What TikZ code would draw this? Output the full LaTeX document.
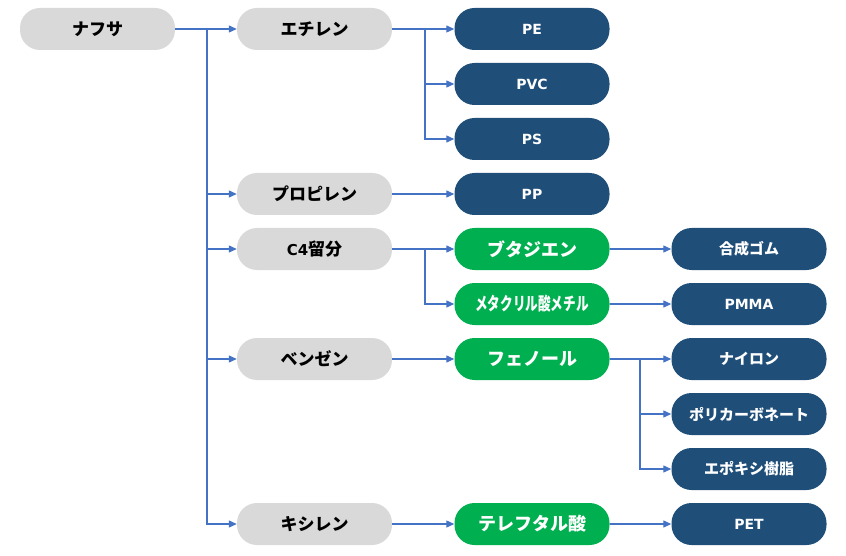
\documentclass[tikz,border=0pt]{standalone}
\usepackage{fontspec}
\setmainfont{Noto Sans CJK JP}
\newfontfamily\latinf{DejaVu Sans}
\usetikzlibrary{arrows.meta}
\definecolor{grayfill}{HTML}{D9D9D9}
\definecolor{darkfill}{HTML}{1F4E79}
\definecolor{greenfill}{HTML}{00B050}
\definecolor{linec}{HTML}{4472C4}
\tikzset{
  base/.style={rounded corners=20pt, minimum width=155pt, minimum height=42pt, inner sep=0pt, font=\bfseries},
  graybox/.style={base, fill=grayfill, text=black, font=\fontsize{17pt}{19pt}\selectfont\bfseries},
  darkbox/.style={base, fill=darkfill, text=white, font=\fontsize{15pt}{17pt}\selectfont\bfseries},
  greenbox/.style={base, fill=greenfill, text=white, font=\fontsize{18pt}{20pt}\selectfont\bfseries},
  arr/.style={draw=linec, line width=1.2pt, -{Triangle[length=8pt,width=7pt]}},
  ln/.style={draw=linec, line width=1.2pt}
}
\newcommand{\lat}[1]{{\latinf\fontsize{14pt}{16pt}\selectfont\bfseries #1}}
\begin{document}
\begin{tikzpicture}[x=1pt,y=-1pt]
\useasboundingbox (0,0) rectangle (846,556);
% column 1
\node[graybox] (naf) at (97.5,29) {ナフサ};
% column 2
\node[graybox] (eth) at (314.5,29) {エチレン};
\node[graybox] (pro) at (314.5,194) {プロピレン};
\node[graybox] (c4) at (314.5,249) {{\latinf\fontsize{15pt}{17pt}\selectfont\bfseries C4}留分};
\node[graybox] (ben) at (314.5,359) {ベンゼン};
\node[graybox] (xyl) at (314.5,524) {キシレン};
% column 3
\node[darkbox] (pe) at (532,29) {\lat{PE}};
\node[darkbox] (pvc) at (532,84) {\lat{PVC}};
\node[darkbox] (ps) at (532,139) {\lat{PS}};
\node[darkbox] (pp) at (532,194) {\lat{PP}};
\node[greenbox] (but) at (532,249) {ブタジエン};
\node[greenbox] (mma) at (532,304) {\scalebox{0.7}[1]{メタクリル酸メチル}};
\node[greenbox] (phe) at (532,359) {フェノール};
\node[greenbox] (tpa) at (532,524) {テレフタル酸};
% column 4
\node[darkbox] (rub) at (749,249) {合成ゴム};
\node[darkbox] (pmma) at (749,304) {\lat{PMMA}};
\node[darkbox] (nyl) at (749,359) {ナイロン};
\node[darkbox] (pc) at (749,414) {ポリカーボネート};
\node[darkbox] (epo) at (749,469) {エポキシ樹脂};
\node[darkbox] (pet) at (749,524) {\lat{PET}};
% junction coordinates
\coordinate (t1) at (207,29);
\coordinate (t2) at (425,29);
\coordinate (t3) at (425,249);
\coordinate (t4) at (640,359);
% connectors
\draw[arr] (naf) -- (eth);
\draw[arr] (t1) |- (pro.west);
\draw[arr] (t1) |- (c4.west);
\draw[arr] (t1) |- (ben.west);
\draw[arr] (t1) |- (xyl.west);
\draw[arr] (eth) -- (pe);
\draw[arr] (t2) |- (pvc.west);
\draw[arr] (t2) |- (ps.west);
\draw[arr] (pro) -- (pp);
\draw[arr] (c4) -- (but);
\draw[arr] (t3) |- (mma.west);
\draw[arr] (but) -- (rub);
\draw[arr] (mma) -- (pmma);
\draw[arr] (ben) -- (phe);
\draw[arr] (phe) -- (nyl);
\draw[arr] (t4) |- (pc.west);
\draw[arr] (t4) |- (epo.west);
\draw[arr] (xyl) -- (tpa);
\draw[arr] (tpa) -- (pet);
\end{tikzpicture}
\end{document}
